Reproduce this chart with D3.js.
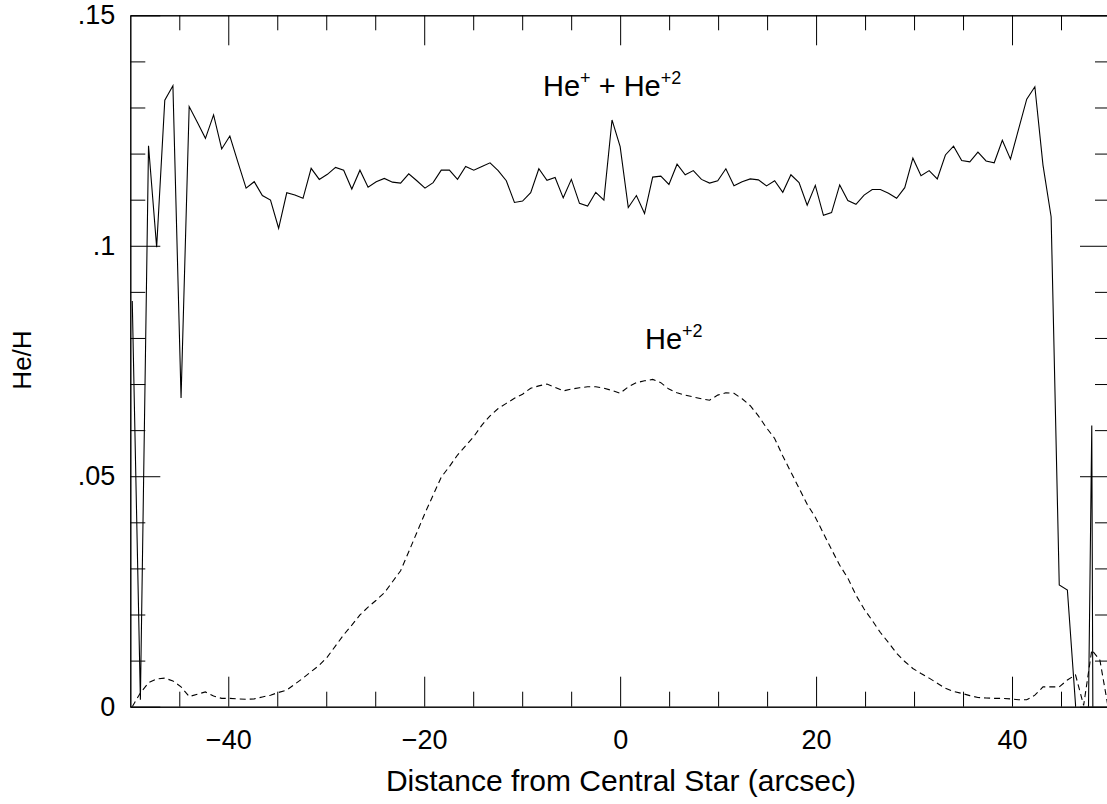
<!DOCTYPE html>
<html>
<head>
<meta charset="utf-8">
<script src="https://cdn.jsdelivr.net/npm/d3@7"></script>
<style>
  body { margin: 0; background: #fff; }
  text { font-family: "Liberation Sans", Arial, Helvetica, sans-serif; fill: #000; }
  .axis path { stroke: #000; }
  .axis line { stroke: #000; }
</style>
</head>
<body>
<script>
// sample positions along the slit (arcsec)
var positions = [-49.8, -48.97, -48.14, -47.31, -46.48, -45.65, -44.82, -43.99, -43.16, -42.33,
  -41.5, -40.67, -39.84, -39.01, -38.18, -37.35, -36.52, -35.69, -34.86, -34.03,
  -33.2, -32.37, -31.54, -30.71, -29.88, -29.05, -28.22, -27.39, -26.56, -25.73,
  -24.9, -24.07, -23.24, -22.41, -21.58, -20.75, -19.92, -19.09, -18.26, -17.43,
  -16.6, -15.77, -14.94, -14.11, -13.28, -12.45, -11.62, -10.79, -9.96, -9.13,
  -8.3, -7.47, -6.64, -5.81, -4.98, -4.15, -3.32, -2.49, -1.66, -0.83,
  0, 0.83, 1.66, 2.49, 3.32, 4.15, 4.98, 5.81, 6.64, 7.47,
  8.3, 9.13, 9.96, 10.79, 11.62, 12.45, 13.28, 14.11, 14.94, 15.77,
  16.6, 17.43, 18.26, 19.09, 19.92, 20.75, 21.58, 22.41, 23.24, 24.07,
  24.9, 25.73, 26.56, 27.39, 28.22, 29.05, 29.88, 30.71, 31.54, 32.37,
  33.2, 34.03, 34.86, 35.69, 36.52, 37.35, 38.18, 39.01, 39.84, 40.67,
  41.5, 42.33, 43.16, 43.99, 44.82, 45.65, 46.48, 47.31, 48.14, 48.97, 49.8];

// He+ + He+2 (total)
var heTotal = [0.088, 0.0015, 0.1217, 0.0997, 0.1316, 0.1347, 0.067, 0.1302, 0.1268, 0.1233,
  0.1284, 0.121, 0.1238, 0.1181, 0.1125, 0.1139, 0.1109, 0.1099, 0.1038, 0.1115,
  0.111, 0.1103, 0.1168, 0.1144, 0.1155, 0.117, 0.1164, 0.1123, 0.1164, 0.1127,
  0.1139, 0.1146, 0.1138, 0.1136, 0.1156, 0.1141, 0.1125, 0.1137, 0.1164, 0.1164,
  0.1144, 0.1172, 0.1164, 0.1172, 0.118, 0.1163, 0.1141, 0.1094, 0.1097, 0.1115,
  0.1167, 0.1142, 0.1148, 0.1104, 0.1144, 0.1092, 0.1086, 0.1116, 0.1099, 0.1273,
  0.1215, 0.1083, 0.1109, 0.107, 0.1149, 0.1151, 0.1133, 0.1177, 0.1154, 0.1163,
  0.1144, 0.1136, 0.1141, 0.1167, 0.113, 0.1139, 0.1145, 0.1143, 0.113, 0.1141,
  0.1116, 0.1154, 0.1137, 0.1088, 0.1131, 0.1066, 0.1072, 0.1132, 0.1098, 0.109,
  0.111, 0.1122, 0.1122, 0.1114, 0.1103, 0.1126, 0.119, 0.1152, 0.1163, 0.1145,
  0.1197, 0.1216, 0.1185, 0.1182, 0.1203, 0.1184, 0.118, 0.1229, 0.1188, 0.1253,
  0.1318, 0.1345, 0.1175, 0.1063, 0.0264, 0.0253, 0.0005, -0.09, 0.061, -0.4];

// He+2 only
var heDouble = [0.0, 0.003, 0.0052, 0.006, 0.0062, 0.0056, 0.0043, 0.0022, 0.0027, 0.0032,
  0.0023, 0.0018, 0.0018, 0.0017, 0.0016, 0.0017, 0.0021, 0.0025, 0.0031, 0.0036,
  0.0049, 0.0062, 0.0076, 0.009, 0.0108, 0.0132, 0.0156, 0.0177, 0.0199, 0.0216,
  0.0231, 0.0247, 0.0271, 0.0295, 0.0336, 0.0378, 0.042, 0.0459, 0.0498, 0.0521,
  0.0546, 0.0566, 0.0586, 0.0611, 0.0631, 0.0647, 0.0658, 0.0669, 0.0678, 0.0691,
  0.0696, 0.07, 0.0693, 0.0685, 0.0689, 0.0692, 0.0694, 0.0694, 0.0691, 0.0686,
  0.068, 0.0694, 0.0703, 0.0707, 0.071, 0.0703, 0.0689, 0.0681, 0.0676, 0.0672,
  0.0668, 0.0665, 0.0676, 0.0681, 0.068, 0.0668, 0.0653, 0.0631, 0.0605, 0.0582,
  0.0544, 0.0509, 0.0474, 0.0439, 0.0411, 0.0376, 0.0341, 0.0307, 0.0279, 0.0242,
  0.0212, 0.0187, 0.0161, 0.0139, 0.0116, 0.0098, 0.0083, 0.0072, 0.0062, 0.0051,
  0.004, 0.0033, 0.0029, 0.0024, 0.002, 0.0019, 0.0018, 0.0018, 0.0017, 0.0015,
  0.0015, 0.0025, 0.0043, 0.0043, 0.0043, 0.0058, 0.0069, 0.0003, 0.0123, 0.0101, 0.0];

// ticks
var xMajor = [-40, -20, 0, 20, 40];
var xMinor = [-45, -35, -30, -25, -15, -10, -5, 5, 10, 15, 25, 30, 35, 45];
var yMajor = [0, 0.05, 0.1, 0.15];
var yMinor = [0.01, 0.02, 0.03, 0.04, 0.06, 0.07, 0.08, 0.09, 0.11, 0.12, 0.13, 0.14];

var width = 1107,
  height = 804;

var svg = d3.select("body").append("svg")
  .attr("width", width)
  .attr("height", height);

var x = d3.scaleLinear().domain([-50, 50]).range([130.3, 1110]);
var y = d3.scaleLinear().domain([0, 0.15]).range([706.7, 15.3]);

var yFormat = function(d) {
  return d === 0 ? "0" : String(d).replace(/^0/, "");
};

// frame: bottom + left carry labels, top + right only ticks
svg.append("g").attr("class", "axis")
  .attr("transform", "translate(0," + y(0) + ")")
  .call(d3.axisBottom(x).tickValues(xMajor).tickSizeInner(-30).tickSizeOuter(0).tickPadding(23))
  .call(g => g.selectAll("text").attr("font-size", 27));
svg.append("g").attr("class", "axis")
  .attr("transform", "translate(0," + y(0) + ")")
  .call(d3.axisBottom(x).tickValues(xMinor).tickSizeInner(-15).tickSizeOuter(0).tickFormat(""));

svg.append("g").attr("class", "axis")
  .attr("transform", "translate(0," + y(0.15) + ")")
  .call(d3.axisTop(x).tickValues(xMajor).tickSizeInner(-30).tickSizeOuter(0).tickFormat(""));
svg.append("g").attr("class", "axis")
  .attr("transform", "translate(0," + y(0.15) + ")")
  .call(d3.axisTop(x).tickValues(xMinor).tickSizeInner(-15).tickSizeOuter(0).tickFormat(""));

svg.append("g").attr("class", "axis")
  .attr("transform", "translate(" + x(-50) + ",0)")
  .call(d3.axisLeft(y).tickValues(yMajor).tickSizeInner(-30).tickSizeOuter(0).tickPadding(15).tickFormat(yFormat))
  .call(g => g.selectAll("text").attr("font-size", 27));
svg.append("g").attr("class", "axis")
  .attr("transform", "translate(" + x(-50) + ",0)")
  .call(d3.axisLeft(y).tickValues(yMinor).tickSizeInner(-15).tickSizeOuter(0).tickFormat(""));

svg.append("g").attr("class", "axis")
  .attr("transform", "translate(" + x(50) + ",0)")
  .call(d3.axisRight(y).tickValues(yMajor).tickSizeInner(-30).tickSizeOuter(0).tickFormat(""));
svg.append("g").attr("class", "axis")
  .attr("transform", "translate(" + x(50) + ",0)")
  .call(d3.axisRight(y).tickValues(yMinor).tickSizeInner(-15).tickSizeOuter(0).tickFormat(""));

// clip the curves to the frame
svg.append("clipPath").attr("id", "plot")
  .append("rect")
  .attr("x", x(-50)).attr("y", y(0.15))
  .attr("width", x(50) - x(-50)).attr("height", y(0) - y(0.15));

var line = d3.line()
  .x(function(d) { return x(d[0]); })
  .y(function(d) { return y(d[1]); });

var totalData = heTotal.map(function(v, i) { return [positions[i], v]; });
var doubleData = heDouble.map(function(v, i) { return [positions[i], v]; });

svg.append("path")
  .datum(totalData)
  .attr("clip-path", "url(#plot)")
  .attr("fill", "none")
  .attr("stroke", "#000")
  .attr("stroke-width", 1.1)
  .attr("d", line);

svg.append("path")
  .datum(doubleData)
  .attr("clip-path", "url(#plot)")
  .attr("fill", "none")
  .attr("stroke", "#000")
  .attr("stroke-width", 1.1)
  .attr("stroke-dasharray", "6,4")
  .attr("d", line);

// titles
svg.append("text")
  .attr("x", 621)
  .attr("y", 791)
  .attr("text-anchor", "middle")
  .attr("font-size", 30)
  .text("Distance from Central Star (arcsec)");

svg.append("text")
  .attr("transform", "translate(31,360) rotate(-90)")
  .attr("text-anchor", "middle")
  .attr("font-size", 26)
  .text("He/H");

// curve labels
var lab1 = svg.append("text")
  .attr("x", 543)
  .attr("y", 96)
  .attr("font-size", 29);
lab1.append("tspan").text("He");
lab1.append("tspan").attr("dy", -12).attr("font-size", 18).text("+");
lab1.append("tspan").attr("dy", 12).text(" + He");
lab1.append("tspan").attr("dy", -12).attr("font-size", 18).text("+2");

var lab2 = svg.append("text")
  .attr("x", 645)
  .attr("y", 349)
  .attr("font-size", 29);
lab2.append("tspan").text("He");
lab2.append("tspan").attr("dy", -12).attr("font-size", 18).text("+2");
</script>
</body>
</html>
